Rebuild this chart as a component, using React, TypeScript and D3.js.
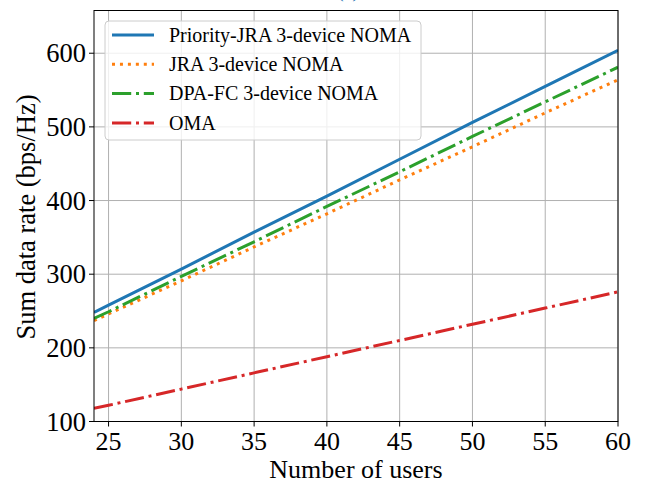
import React from 'react';
import * as d3 from 'd3';

const users = [24, 25, 30, 35, 40, 45, 50, 55, 60];
const priorityJra = [248, 258, 307, 357, 406, 456, 506, 555, 604];
const jra = [237, 246, 291, 337, 382, 428, 473, 519, 564];
const dpaFc = [240, 249, 297, 344, 392, 439, 487, 534, 581];
const oma = [118, 122, 144, 166, 188, 210, 232, 254, 276];

const xTicks = [25, 30, 35, 40, 45, 50, 55, 60];
const yTicks = [100, 200, 300, 400, 500, 600];

const series = [
  { name: 'Priority-JRA 3-device NOMA', values: priorityJra, color: '#1f77b4', dash: 'none' },
  { name: 'JRA 3-device NOMA', values: jra, color: '#ff7f0e', dash: '3,4.95' },
  { name: 'DPA-FC 3-device NOMA', values: dpaFc, color: '#2ca02c', dash: '19.2,4.8,3,4.8' },
  { name: 'OMA', values: oma, color: '#d62728', dash: '19.2,4.8,3,4.8' },
];

const width = 647;
const height = 486;
const margin = { top: 10.5, right: 29, bottom: 64.5, left: 94 };
const font = '"Liberation Serif", "Times New Roman", serif';

export default function App() {
  const x = d3.scaleLinear().domain([24, 60]).range([margin.left, width - margin.right]);
  const y = d3.scaleLinear().domain([100, 658]).range([height - margin.bottom, margin.top]);

  const line = d3
    .line<number>()
    .x((_, i) => x(users[i]))
    .y((d) => y(d));

  const left = margin.left;
  const right = width - margin.right;
  const top = margin.top;
  const bottom = height - margin.bottom;

  return (
    <svg
      width={width}
      height={height}
      style={{ position: 'absolute', left: 0, top: 0, background: '#fff' }}
      fontFamily={font}
    >
      <defs>
        <clipPath id="plot">
          <rect x={left} y={top} width={right - left} height={bottom - top} />
        </clipPath>
      </defs>
      {/* title mostly outside the crop, as in the original */}
      <text x={348} y={-3} fontSize={20} fill="#1f77b4" textAnchor="middle">
        (a)
      </text>

      {/* grid */}
      {xTicks.map((t) => (
        <line key={'gx' + t} x1={x(t)} x2={x(t)} y1={top} y2={bottom} stroke="#b0b0b0" strokeWidth={1} />
      ))}
      {yTicks.map((t) => (
        <line key={'gy' + t} x1={left} x2={right} y1={y(t)} y2={y(t)} stroke="#b0b0b0" strokeWidth={1} />
      ))}

      {/* lines */}
      <g clipPath="url(#plot)">
        {series.map((s) => (
          <path
            key={s.name}
            d={line(s.values) || ''}
            fill="none"
            stroke={s.color}
            strokeWidth={3}
            strokeDasharray={s.dash}
          />
        ))}
      </g>

      {/* frame */}
      <rect x={left} y={top} width={right - left} height={bottom - top} fill="none" stroke="#000" strokeWidth={1} />

      {/* x axis */}
      {xTicks.map((t) => (
        <g key={'xt' + t}>
          <line x1={x(t)} x2={x(t)} y1={bottom} y2={bottom + 5} stroke="#000" />
          <text x={x(t)} y={450} fontSize={26} textAnchor="middle">
            {t}
          </text>
        </g>
      ))}
      <text x={(left + right) / 2} y={478} fontSize={26} textAnchor="middle">
        Number of users
      </text>

      {/* y axis */}
      {yTicks.map((t) => (
        <g key={'yt' + t}>
          <line x1={left - 5} x2={left} y1={y(t)} y2={y(t)} stroke="#000" />
          <text x={86} y={y(t)} dy="0.34em" fontSize={26.5} textAnchor="end">
            {t}
          </text>
        </g>
      ))}
      <text
        transform={`translate(35, ${217}) rotate(-90)`}
        fontSize={26.5}
        textAnchor="middle"
      >
        Sum data rate (bps/Hz)
      </text>

      {/* legend */}
      <g>
        <rect x={105} y={21} width={316} height={119} rx={4} fill="#fff" fillOpacity={0.8} stroke="#cccccc" />
        {series.map((s, i) => (
          <g key={'lg' + s.name} transform={`translate(0, ${35 + i * 29.3})`}>
            <line x1={112} x2={154} y1={0} y2={0} stroke={s.color} strokeWidth={3} strokeDasharray={s.dash} />
            <text x={169} y={0} dy="0.34em" fontSize={20}>
              {s.name}
            </text>
          </g>
        ))}
      </g>
    </svg>
  );
}
